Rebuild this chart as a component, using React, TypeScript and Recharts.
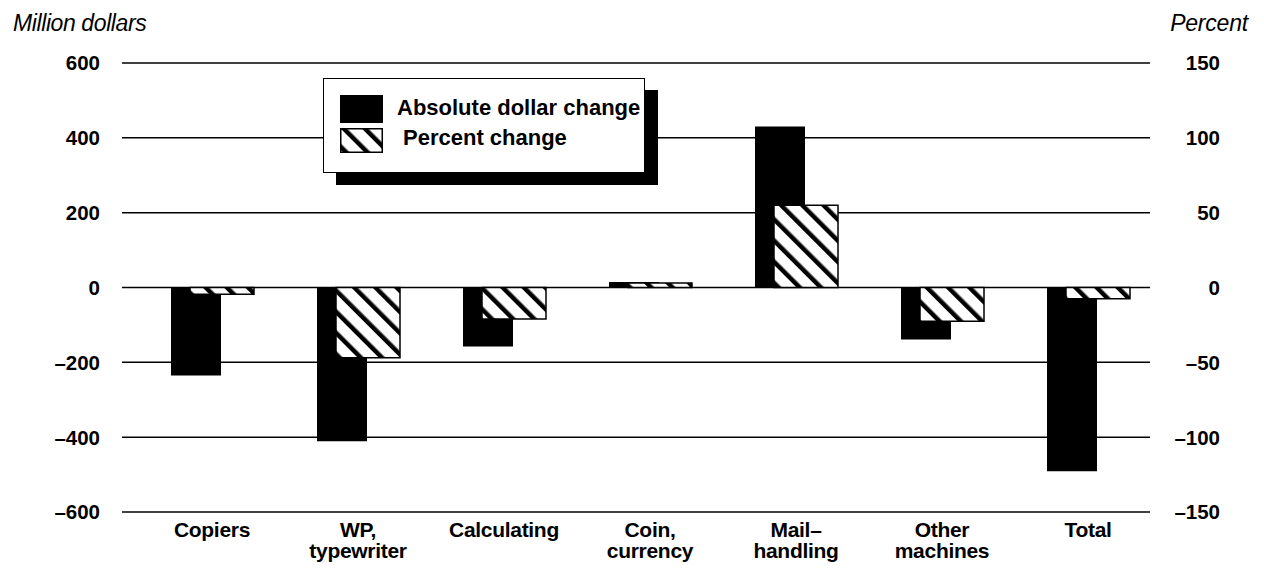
import { Bar, BarChart, CartesianGrid, XAxis, YAxis } from "recharts";

const categories = [
  "Copiers",
  "WP,\ntypewriter",
  "Calculating",
  "Coin,\ncurrency",
  "Mail–\nhandling",
  "Other\nmachines",
  "Total",
];
const dollarChange = [-235, -411, -158, 15, 430, -139, -491];
const percentChange = [-4.5, -47, -21, 3, 55, -22.5, -7.5];
const dollarTicks = [-600, -400, -200, 0, 200, 400, 600];
const percentTicks = [-150, -100, -50, 0, 50, 100, 150];

const data = categories.map((name, i) => ({
  name,
  dollars: dollarChange[i],
  percent: percentChange[i],
}));

const FONT = '"Liberation Sans", Arial, Helvetica, sans-serif';

function fmt(v: number) {
  return v < 0 ? `–${Math.abs(v)}` : `${v}`;
}

function LeftTick({ x, y, payload }: any) {
  return (
    <text x={x - 14} y={y} dy="0.36em" textAnchor="end" fontFamily={FONT} fontSize={20.5} fontWeight={700} fill="#000">
      {fmt(payload.value)}
    </text>
  );
}

function RightTick({ x, y, payload }: any) {
  return (
    <text x={x + 62} y={y} dy="0.36em" textAnchor="end" fontFamily={FONT} fontSize={20.5} fontWeight={700} fill="#000">
      {fmt(payload.value)}
    </text>
  );
}

function CategoryTick({ x, y, payload }: any) {
  const lines = String(payload.value).split("\n");
  return (
    <text x={x} y={y} textAnchor="middle" fontFamily={FONT} fontSize={21} fontWeight={700} fill="#000" letterSpacing={-0.3}>
      {lines.map((line, i) => (
        <tspan key={i} x={x} dy={i === 0 ? 17 : 21}>
          {line}
        </tspan>
      ))}
    </text>
  );
}

function HatchSwatch() {
  return (
    <svg width={43} height={25} style={{ display: "block" }}>
      <defs>
        <pattern id="hatchLegend" width={15} height={15} patternUnits="userSpaceOnUse" patternTransform="rotate(-45)">
          <rect width={15} height={15} fill="#fff" />
          <rect width={4.5} height={15} fill="#000" />
        </pattern>
      </defs>
      <rect x={0.75} y={0.75} width={41.5} height={23.5} fill="url(#hatchLegend)" stroke="#000" strokeWidth={1.5} />
    </svg>
  );
}

export default function App() {
  return (
    <div style={{ position: "absolute", left: 0, top: 0, width: 1264, height: 569, background: "#fff", fontFamily: FONT }}>
      <div style={{ position: "absolute", left: 13, top: 10, fontSize: 23, fontStyle: "italic", letterSpacing: -0.4 }}>
        Million dollars
      </div>
      <div style={{ position: "absolute", right: 16, top: 10, fontSize: 23, fontStyle: "italic", letterSpacing: -0.2 }}>
        Percent
      </div>

      <BarChart
        width={1264}
        height={569}
        data={data}
        margin={{ top: 63, right: 0, bottom: 0, left: 0 }}
        barGap={-31}
      >
        <defs>
          <pattern id="hatch" width={15} height={15} patternUnits="userSpaceOnUse" patternTransform="rotate(-45)">
            <rect width={15} height={15} fill="#fff" />
            <rect width={4.5} height={15} fill="#000" />
          </pattern>
        </defs>
        <CartesianGrid yAxisId="left" vertical={false} stroke="#000" strokeWidth={1.5} />
        <XAxis
          dataKey="name"
          height={57}
          axisLine={false}
          tickLine={false}
          interval={0}
          tick={<CategoryTick />}
          padding={{ left: 17, right: -11 }}
        />
        <YAxis
          yAxisId="left"
          orientation="left"
          width={122}
          domain={[-600, 600]}
          ticks={dollarTicks}
          axisLine={false}
          tickLine={false}
          tick={<LeftTick />}
        />
        <YAxis
          yAxisId="right"
          orientation="right"
          width={114}
          domain={[-150, 150]}
          ticks={percentTicks}
          axisLine={false}
          tickLine={false}
          tick={<RightTick />}
        />
        <Bar yAxisId="left" dataKey="dollars" fill="#000" barSize={50} isAnimationActive={false} />
        <Bar
          yAxisId="right"
          dataKey="percent"
          fill="url(#hatch)"
          stroke="#000"
          strokeWidth={1.5}
          barSize={64}
          isAnimationActive={false}
        />
      </BarChart>

      <div
        style={{
          position: "absolute",
          left: 323,
          top: 78,
          width: 320,
          height: 93,
          border: "1.5px solid #000",
          background: "#fff",
          boxShadow: "13px 12px 0 #000",
        }}
      >
        <div style={{ position: "absolute", left: 16, top: 16, width: 43, height: 28, background: "#000" }} />
        <div style={{ position: "absolute", left: 73, top: 16, fontSize: 22, fontWeight: 700 }}>
          Absolute dollar change
        </div>
        <div style={{ position: "absolute", left: 16, top: 49 }}>
          <HatchSwatch />
        </div>
        <div style={{ position: "absolute", left: 79, top: 46, fontSize: 22, fontWeight: 700 }}>
          Percent change
        </div>
      </div>
    </div>
  );
}
